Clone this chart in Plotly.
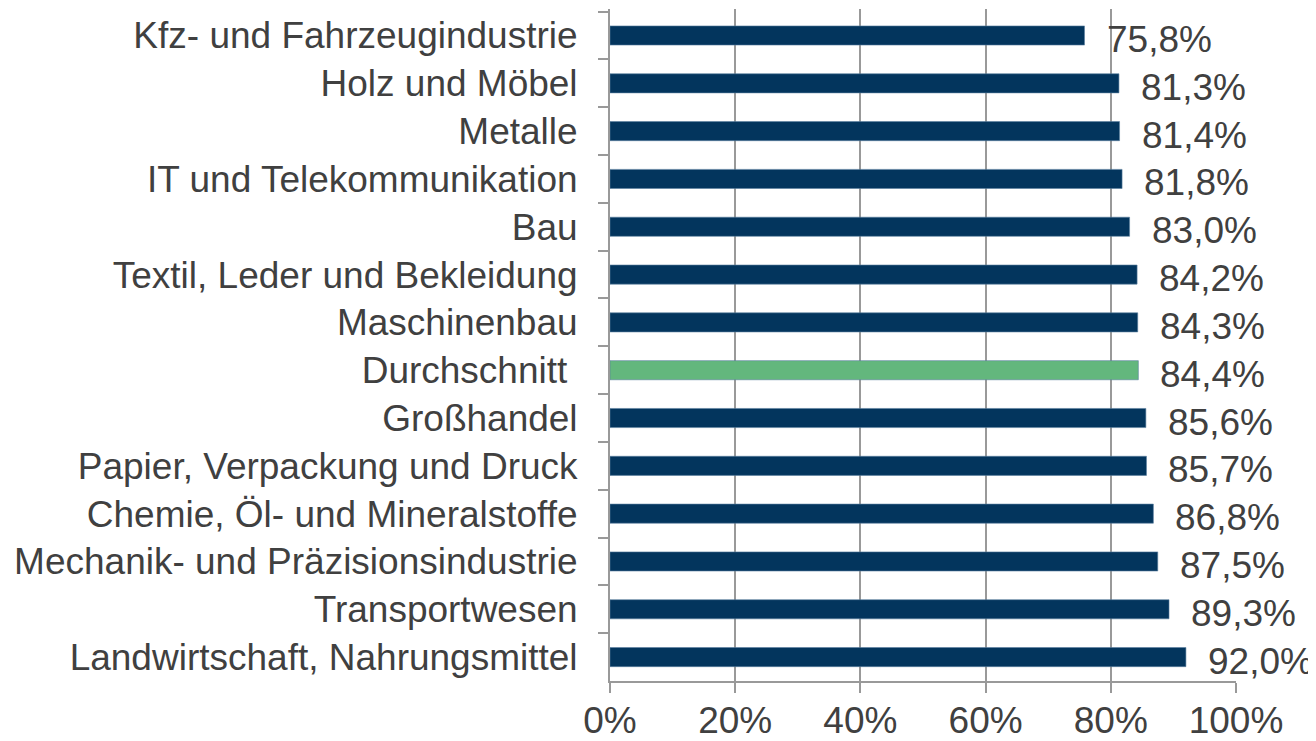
import plotly.graph_objects as go

categories = [
    "Kfz- und Fahrzeugindustrie",
    "Holz und Möbel",
    "Metalle",
    "IT und Telekommunikation",
    "Bau",
    "Textil, Leder und Bekleidung",
    "Maschinenbau",
    "Durchschnitt ",
    "Großhandel",
    "Papier, Verpackung und Druck",
    "Chemie, Öl- und Mineralstoffe",
    "Mechanik- und Präzisionsindustrie",
    "Transportwesen",
    "Landwirtschaft, Nahrungsmittel",
]
values = [75.8, 81.3, 81.4, 81.8, 83.0, 84.2, 84.3, 84.4, 85.6, 85.7, 86.8, 87.5, 89.3, 92.0]
labels = ["75,8%", "81,3%", "81,4%", "81,8%", "83,0%", "84,2%", "84,3%", "84,4%",
          "85,6%", "85,7%", "86,8%", "87,5%", "89,3%", "92,0%"]
x_ticks = [0, 20, 40, 60, 80, 100]
x_ticklabels = ["0%", "20%", "40%", "60%", "80%", "100%"]

NAVY = "#03355D"
GREEN = "#63B77D"
colors = [GREEN if c.strip() == "Durchschnitt" else NAVY for c in categories]
TEXT = "#404040"
AXIS = "#999999"
FONT = "Liberation Sans, Arial, sans-serif"
FS = 37

fig = go.Figure()
fig.add_trace(go.Bar(
    x=values, y=categories, orientation="h",
    marker=dict(color=colors, line=dict(color="#5a7fa0", width=0.6)),
    width=0.4, hoverinfo="skip",
))

for c, v, t in zip(categories, values, labels):
    fig.add_annotation(x=v, y=c, text=t, showarrow=False, xanchor="left",
                       xshift=20, yshift=-4,
                       font=dict(family=FONT, size=FS, color=TEXT))

fig.update_layout(
    width=1308, height=733,
    margin=dict(l=602, r=80, t=1, b=60, autoexpand=False),
    paper_bgcolor="white", plot_bgcolor="white",
    showlegend=False,
    font=dict(family=FONT, size=FS, color=TEXT),
)
fig.update_xaxes(
    range=[0, 100], tickvals=x_ticks, ticktext=x_ticklabels,
    showgrid=True, gridcolor=AXIS, gridwidth=2,
    showline=True, linecolor=AXIS, linewidth=2,
    ticks="outside", ticklen=10, tickwidth=2, tickcolor=AXIS,
    ticklabelstandoff=-4, zeroline=False, automargin=False,
    tickfont=dict(family=FONT, size=FS, color=TEXT),
)
fig.update_yaxes(
    categoryorder="array", categoryarray=categories, autorange="reversed",
    showgrid=False, showline=True, linecolor=AXIS, linewidth=2,
    ticks="outside", ticklen=10, tickwidth=2, tickcolor=AXIS,
    tickson="boundaries", ticklabelstandoff=23, automargin=False,
    tickfont=dict(family=FONT, size=FS, color=TEXT),
)

fig.write_html("out.html")
